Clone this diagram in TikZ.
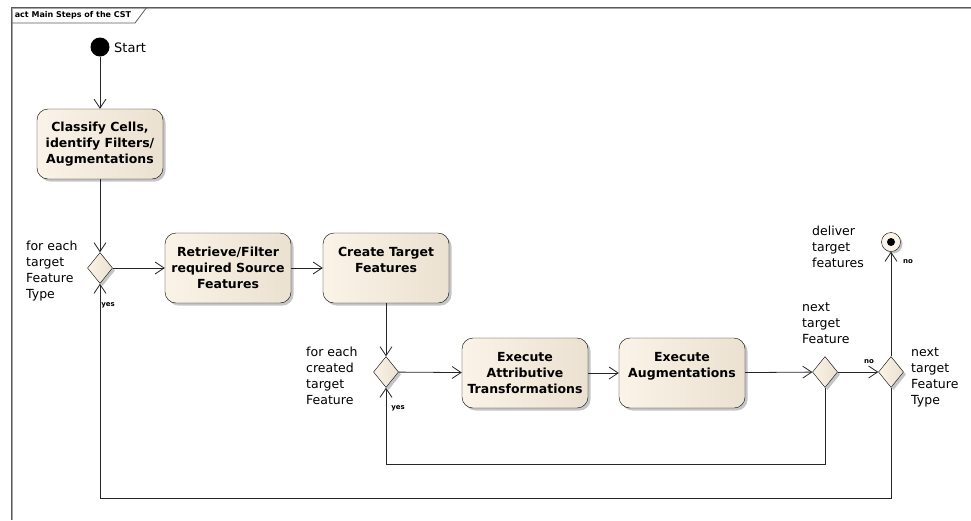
\documentclass[tikz,border=0pt]{standalone}
\usepackage{fontspec}
\setmainfont{DejaVu Sans}
\usetikzlibrary{shapes.geometric,arrows.meta,shadows}
\definecolor{boxlight}{RGB}{250,243,231}
\definecolor{boxdark}{RGB}{235,225,209}
\definecolor{framegray}{RGB}{90,90,90}

\begin{document}
\begin{tikzpicture}[
                x=1pt, y=-1pt,
                action/.style={
                    draw=black,
                    left color=boxlight,
                    right color=boxdark,
                    rectangle,
                    rounded corners=11pt,
                    minimum width=126pt,
                    minimum height=70pt,
                    inner sep=2pt,
                    align=center,
                    font=\fontsize{12.5}{16}\selectfont\bfseries,
                    drop shadow={shadow xshift=2.5pt, shadow yshift=-2.5pt, fill=black!45, opacity=0.5}
                },
                decision/.style={
                    draw=black,
                    diamond,
                    left color=boxlight,
                    right color=boxdark,
                    minimum width=25pt,
                    minimum height=31pt,
                    inner sep=0pt,
                    drop shadow={shadow xshift=2.5pt, shadow yshift=-2.5pt, fill=black!45, opacity=0.5}
                },
                startnode/.style={
                    circle,
                    fill=black,
                    minimum size=19pt,
                    inner sep=0pt
                },
                endnode/.style={
                    circle,
                    draw=black,
                    fill=boxlight,
                    minimum size=19pt,
                    inner sep=0pt,
                    path picture={\fill[black] (path picture bounding box.center) circle (4pt);},
                    drop shadow={shadow xshift=2pt, shadow yshift=-2pt, fill=black!45, opacity=0.5}
                },
                note/.style={
                    align=left,
                    inner sep=0pt,
                    anchor=west,
                    font=\fontsize{12.5}{16}\selectfont
                },
                guard/.style={
                    inner sep=0pt,
                    font=\fontsize{7}{8}\selectfont\bfseries
                },
                arrow/.style={
                    -{Straight Barb[length=9pt,width=12pt]},
                    line width=0.8pt,
                    draw=black!85
                }
            ]
                \useasboundingbox (0,0) rectangle (971,520);

                % frame
                \draw[black!35, line width=1pt] (971,8.5) -- (12.5,8.5) -- (12.5,520);
                \draw[framegray, line width=0.8pt] (971,7) -- (11,7) -- (11,520);
                \draw[framegray, line width=0.8pt] (11,23) -- (135,23) -- (147,7);
                \node[inner sep=0pt, font=\fontsize{8}{10}\selectfont\bfseries] (title) at (73,15) {act Main Steps of the CST};

                \node[startnode] (start) at (100,47) {};
                \node[note, font=\fontsize{13}{16}\selectfont] (startlbl) at (114,48) {Start};

                \node[action] (classify) at (100,144) {Classify Cells,\\identify Filters/\\Augmentations};
                \node[decision] (type) at (100,268) {};
                \node[action] (retrieve) at (228,268) {Retrieve/Filter\\required Source\\Features};
                \node[action] (create) at (386,268) {Create Target\\Features\\~};
                \node[decision] (feat) at (386,372) {};
                \node[action] (attrib) at (525,373) {Execute\\Attributive\\Transformations};
                \node[action] (augment) at (682,373) {Execute\\Augmentations\\~};
                \node[decision] (nextfeat) at (825,372) {};
                \node[decision] (nexttype) at (891,372) {};
                \node[endnode] (final) at (891,242) {};

                \node[note] (typelbl) at (26,271) {for each\\target\\Feature\\Type};
                \node[note] (featlbl) at (306,376) {for each\\created\\target\\Feature};
                \node[note] (nextfeatlbl) at (802,323) {next\\target\\Feature};
                \node[note] (finallbl) at (812,247) {deliver\\target\\features};
                \node[note] (nexttypelbl) at (911,377) {next\\target\\Feature\\Type};

                \node[guard] (yes1) at (108,305) {yes};
                \node[guard] (yes2) at (398,408) {yes};
                \node[guard] (no1) at (869,362) {no};
                \node[guard] (no2) at (908,262) {no};

                \draw[arrow] (start) -- (classify);
                \draw[arrow] (classify) -- (type);
                \draw[arrow] (type) -- (retrieve);
                \draw[arrow] (retrieve) -- (create);
                \draw[arrow] (create) -- (feat);
                \draw[arrow] (feat) -- (attrib);
                \draw[arrow] (attrib) -- (augment);
                \draw[arrow] (augment) -- (nextfeat);
                \draw[arrow] (nextfeat) -- (nexttype);
                \draw[arrow] (nexttype) -- (final);
                \draw[arrow] (nextfeat.south) -- ++(0,77) -| (feat.south);
                \draw[arrow] (nexttype.south) -- ++(0,111) -| (type.south);
        \end{tikzpicture}
\end{document}
